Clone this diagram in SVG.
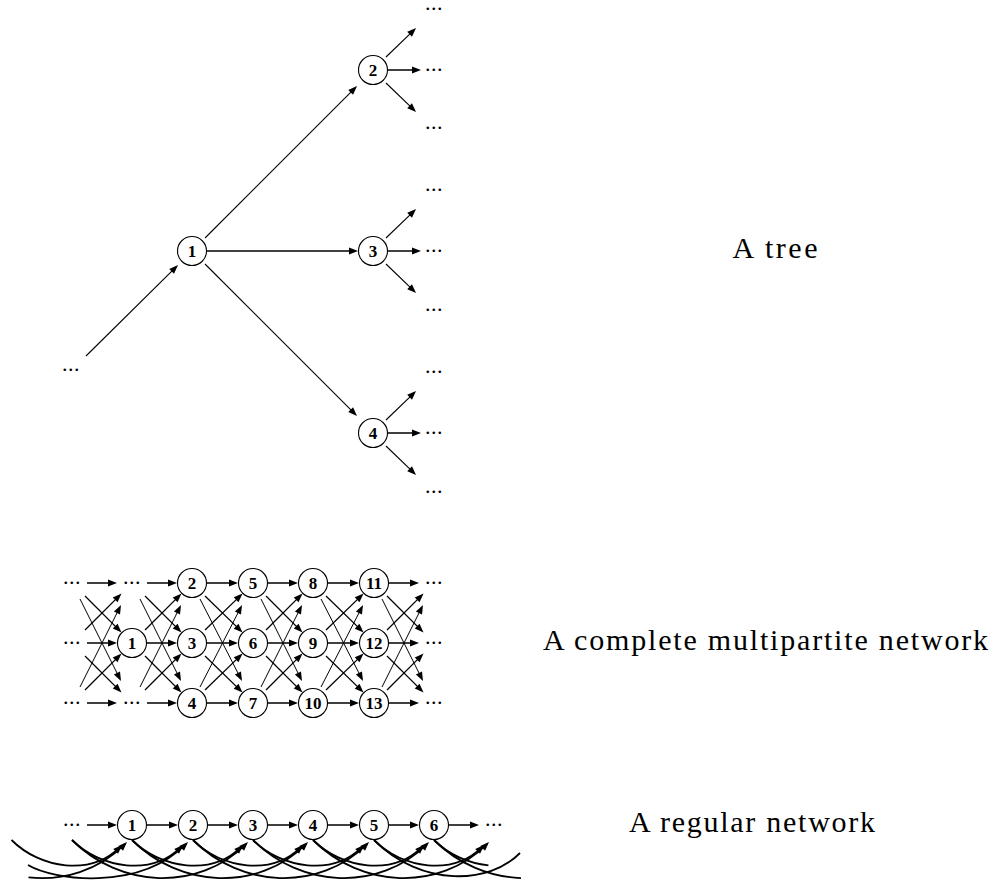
<svg xmlns="http://www.w3.org/2000/svg" width="998" height="888" viewBox="0 0 998 888">
<defs>
<marker id="ah" viewBox="-10 -5 12 10" markerWidth="12" markerHeight="10" refX="-3" refY="0" orient="auto" markerUnits="userSpaceOnUse">
<path d="M0,0 L-9,-3.4 L-9,3.4 Z" fill="#000"/>
</marker>
<style>
.n circle{fill:#fff;stroke:#000;stroke-width:1.1}
.n text{font-family:"Liberation Serif",serif;font-weight:bold;font-size:17px;text-anchor:middle;fill:#000}
.d{font-family:"Liberation Serif",serif;font-size:22px;text-anchor:middle;letter-spacing:0.5px;fill:#000}
.lbl{font-family:"Liberation Serif",serif;font-size:30px;text-anchor:middle;fill:#000}
.e{fill:none;stroke:#000;marker-end:url(#ah)}
.o{fill:none;stroke:#000;stroke-width:1.8}
.t{stroke-width:1.1}
.h{stroke-width:1.5}
.x1{stroke-width:1.3}
.x2{stroke-width:1.0}
.c{stroke-width:1.8}
</style>
</defs>
<rect width="998" height="888" fill="#fff"/>
<g id="connectors">
<path class="e t" d="M86,356 L175.9,267.1"/>
<path class="e t" d="M205,238 L354.9,88.1"/>
<path class="e h" d="M207,251 L355,251"/>
<path class="e t" d="M205,264 L354.9,413.9"/>
<path class="e t" d="M386,57 L413.9,30.1"/>
<path class="e h" d="M388,70 L418,70"/>
<path class="e t" d="M386,83 L413.9,109.9"/>
<path class="e t" d="M386,238 L413.9,211.1"/>
<path class="e h" d="M388,251 L418,251"/>
<path class="e t" d="M386,264 L413.9,290.9"/>
<path class="e t" d="M386,420 L413.9,393.1"/>
<path class="e h" d="M388,433 L418,433"/>
<path class="e t" d="M386,446 L413.9,472.9"/>
<path class="e h" d="M87,583 L114,583"/><path class="e h" d="M147,583 L174,583"/><path class="e h" d="M207,583 L235,583"/><path class="e h" d="M268,583 L295,583"/><path class="e h" d="M328,583 L356,583"/><path class="e h" d="M389,583 L416,583"/>
<path class="e h" d="M87,643 L114,643"/><path class="e h" d="M147,643 L174,643"/><path class="e h" d="M207,643 L235,643"/><path class="e h" d="M268,643 L295,643"/><path class="e h" d="M328,643 L356,643"/><path class="e h" d="M389,643 L416,643"/>
<path class="e h" d="M87,703 L114,703"/><path class="e h" d="M147,703 L174,703"/><path class="e h" d="M207,703 L235,703"/><path class="e h" d="M268,703 L295,703"/><path class="e h" d="M328,703 L356,703"/><path class="e h" d="M389,703 L416,703"/>
<path class="e x1" d="M85,596 L119.4,630.4"/><path class="e x1" d="M85,656 L119.4,690.4"/><path class="e x1" d="M85,630 L119.4,595.6"/><path class="e x1" d="M85,690 L119.4,655.6"/><path class="e x2" d="M80,599 L119.65,678.3"/><path class="e x2" d="M80,687 L119.65,607.7"/>
<path class="e x1" d="M145,596 L179.4,630.4"/><path class="e x1" d="M145,656 L179.4,690.4"/><path class="e x1" d="M145,630 L179.4,595.6"/><path class="e x1" d="M145,690 L179.4,655.6"/><path class="e x2" d="M140,599 L179.65,678.3"/><path class="e x2" d="M140,687 L179.65,607.7"/>
<path class="e x1" d="M205,596 L240.4,630.4"/><path class="e x1" d="M205,656 L240.4,690.4"/><path class="e x1" d="M205,630 L240.4,595.6"/><path class="e x1" d="M205,690 L240.4,655.6"/><path class="e x2" d="M200,599 L240.65,678.3"/><path class="e x2" d="M200,687 L240.65,607.7"/>
<path class="e x1" d="M266,596 L300.4,630.4"/><path class="e x1" d="M266,656 L300.4,690.4"/><path class="e x1" d="M266,630 L300.4,595.6"/><path class="e x1" d="M266,690 L300.4,655.6"/><path class="e x2" d="M261,599 L300.65,678.3"/><path class="e x2" d="M261,687 L300.65,607.7"/>
<path class="e x1" d="M326,596 L361.4,630.4"/><path class="e x1" d="M326,656 L361.4,690.4"/><path class="e x1" d="M326,630 L361.4,595.6"/><path class="e x1" d="M326,690 L361.4,655.6"/><path class="e x2" d="M321,599 L361.65,678.3"/><path class="e x2" d="M321,687 L361.65,607.7"/>
<path class="e x1" d="M387,596 L421.4,630.4"/><path class="e x1" d="M387,656 L421.4,690.4"/><path class="e x1" d="M387,630 L421.4,595.6"/><path class="e x1" d="M387,690 L421.4,655.6"/><path class="e x2" d="M382,599 L421.65,678.3"/><path class="e x2" d="M382,687 L421.65,607.7"/>
<path class="e h" d="M87,825 L114,825"/><path class="e h" d="M147,825 L175,825"/><path class="e h" d="M208,825 L235,825"/><path class="e h" d="M268,825 L295,825"/><path class="e h" d="M328,825 L356,825"/><path class="e h" d="M389,825 L416,825"/><path class="e h" d="M449,825 L476,825"/>
<path class="e c" d="M11.5,840 C40.5,869 90.9,876.1 119.9,847.1"/>
<path class="e c" d="M28.52,877.38 C63.06,881.14 98.5,870.5 124.9,844.1"/>
<path class="e c" d="M28,865 C53,880 137.9,892.1 185.9,844.1"/>
<path class="e c" d="M72,840 C101,869 151.9,876.1 180.9,847.1"/>
<path class="e c" d="M72,840 C120,888 197.9,892.1 245.9,844.1"/>
<path class="e c" d="M132,840 C161,869 211.9,876.1 240.9,847.1"/>
<path class="e c" d="M132,840 C180,888 257.9,892.1 305.9,844.1"/>
<path class="e c" d="M193,840 C222,869 271.9,876.1 300.9,847.1"/>
<path class="e c" d="M193,840 C241,888 318.9,892.1 366.9,844.1"/>
<path class="e c" d="M253,840 C282,869 332.9,876.1 361.9,847.1"/>
<path class="e c" d="M253,840 C301,888 378.9,892.1 426.9,844.1"/>
<path class="e c" d="M313,840 C342,869 392.9,876.1 421.9,847.1"/>
<path class="e c" d="M313,840 C361,888 438.9,892.1 486.9,844.1"/>
<path class="e c" d="M374,840 C403,869 452.9,876.1 481.9,847.1"/>
<path class="o" d="M374,840 C422,888 490,884 520,853"/>
<path class="o" d="M434,840 C448.5,854.5 468.5,863.5 488.45,865.3"/>
<path class="o" d="M434,840 C458,864 489.5,877 520.95,878.05"/>
</g>
<g id="ellipses">
<text class="d" x="71" y="371.2">...</text>
<text class="d" x="434" y="10.2">...</text><text class="d" x="434" y="71.2">...</text><text class="d" x="434" y="129.2">...</text>
<text class="d" x="434" y="191.2">...</text><text class="d" x="434" y="252.2">...</text><text class="d" x="434" y="311.2">...</text>
<text class="d" x="434" y="373.2">...</text><text class="d" x="434" y="434.2">...</text><text class="d" x="434" y="493.2">...</text>
<text class="d" x="72" y="584.2">...</text><text class="d" x="132" y="584.2">...</text><text class="d" x="434" y="584.2">...</text>
<text class="d" x="72" y="644.2">...</text><text class="d" x="434" y="644.2">...</text>
<text class="d" x="72" y="704.2">...</text><text class="d" x="132" y="704.2">...</text><text class="d" x="434" y="704.2">...</text>
<text class="d" x="72" y="826.2">...</text><text class="d" x="494" y="826.2">...</text>
</g>
<g id="t1" class="n"><circle cx="192" cy="251" r="14.5"/><text x="192" y="256.8">1</text></g>
<g id="t2" class="n"><circle cx="373" cy="70" r="14.5"/><text x="373" y="75.8">2</text></g>
<g id="t3" class="n"><circle cx="373" cy="251" r="14.5"/><text x="373" y="256.8">3</text></g>
<g id="t4" class="n"><circle cx="373" cy="433" r="14.5"/><text x="373" y="438.8">4</text></g>
<g id="m1" class="n"><circle cx="132" cy="643" r="14.5"/><text x="132" y="648.8">1</text></g>
<g id="m2" class="n"><circle cx="192" cy="583" r="14.5"/><text x="192" y="588.8">2</text></g>
<g id="m3" class="n"><circle cx="192" cy="643" r="14.5"/><text x="192" y="648.8">3</text></g>
<g id="m4" class="n"><circle cx="192" cy="703" r="14.5"/><text x="192" y="708.8">4</text></g>
<g id="m5" class="n"><circle cx="253" cy="583" r="14.5"/><text x="253" y="588.8">5</text></g>
<g id="m6" class="n"><circle cx="253" cy="643" r="14.5"/><text x="253" y="648.8">6</text></g>
<g id="m7" class="n"><circle cx="253" cy="703" r="14.5"/><text x="253" y="708.8">7</text></g>
<g id="m8" class="n"><circle cx="313" cy="583" r="14.5"/><text x="313" y="588.8">8</text></g>
<g id="m9" class="n"><circle cx="313" cy="643" r="14.5"/><text x="313" y="648.8">9</text></g>
<g id="m10" class="n"><circle cx="313" cy="703" r="14.5"/><text x="313" y="708.8">10</text></g>
<g id="m11" class="n"><circle cx="374" cy="583" r="14.5"/><text x="374" y="588.8">11</text></g>
<g id="m12" class="n"><circle cx="374" cy="643" r="14.5"/><text x="374" y="648.8">12</text></g>
<g id="m13" class="n"><circle cx="374" cy="703" r="14.5"/><text x="374" y="708.8">13</text></g>
<g id="r1" class="n"><circle cx="132" cy="825" r="14.5"/><text x="132" y="830.8">1</text></g>
<g id="r2" class="n"><circle cx="193" cy="825" r="14.5"/><text x="193" y="830.8">2</text></g>
<g id="r3" class="n"><circle cx="253" cy="825" r="14.5"/><text x="253" y="830.8">3</text></g>
<g id="r4" class="n"><circle cx="313" cy="825" r="14.5"/><text x="313" y="830.8">4</text></g>
<g id="r5" class="n"><circle cx="374" cy="825" r="14.5"/><text x="374" y="830.8">5</text></g>
<g id="r6" class="n"><circle cx="434" cy="825" r="14.5"/><text x="434" y="830.8">6</text></g>
<g id="labels">
<text class="lbl" x="775" y="258" textLength="85">A tree</text>
<text class="lbl" x="765.5" y="650" textLength="445">A complete multipartite network</text>
<text class="lbl" x="752" y="832" textLength="246">A regular network</text>
</g>
</svg>
